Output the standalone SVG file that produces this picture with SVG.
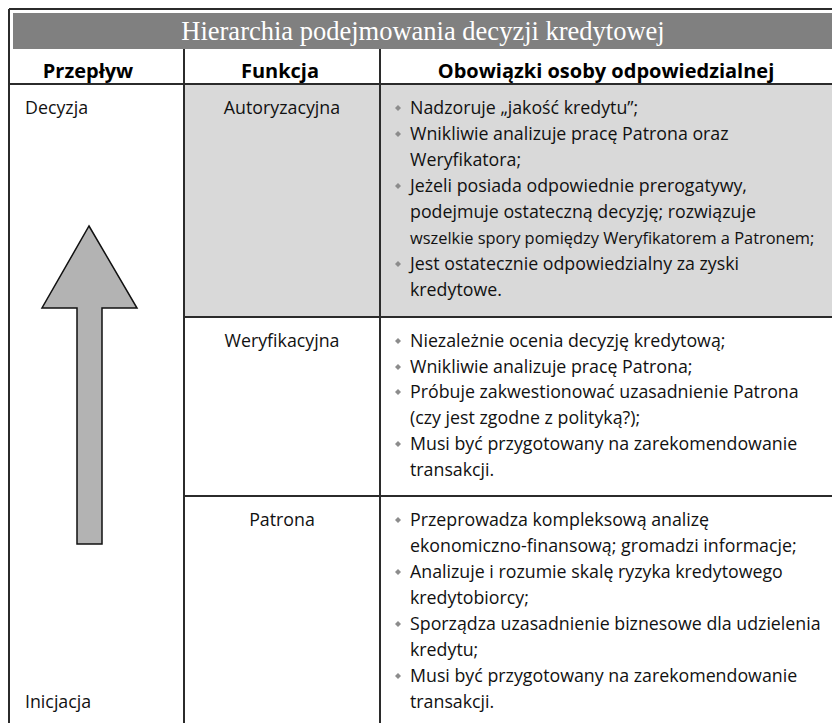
<svg xmlns="http://www.w3.org/2000/svg" width="832" height="723" viewBox="0 0 832 723">
<style>
.title{font-family:"Liberation Serif","DejaVu Serif",serif;font-size:26.5px;fill:#ffffff}
.hdr{font-family:"Open Sans","Noto Sans",sans-serif;font-size:20px;font-weight:bold;fill:#000}
.t{font-family:"Open Sans","Noto Sans",sans-serif;font-size:17.8px;fill:#111}
.ln{stroke:#2b2b2b;stroke-width:2;fill:none}
.bul{fill:#8c8c8c}
</style>
<defs>
<path id="b" d="M0,-3 L3,0 L0,3 L-3,0 Z"/>
</defs>
<rect x="0" y="0" width="832" height="723" fill="#fff"/>
<g id="title">
<rect x="13" y="13" width="819" height="36" fill="#808080"/>
<text class="title" x="423" y="40" text-anchor="middle">Hierarchia podejmowania decyzji kredytowej</text>
</g>
<g id="header">
<text class="hdr" x="88" y="78" text-anchor="middle">Przepływ</text>
<text class="hdr" x="280" y="78" text-anchor="middle">Funkcja</text>
<text class="hdr" x="606" y="78" text-anchor="middle">Obowiązki osoby odpowiedzialnej</text>
</g>
<g id="row1">
<rect x="185" y="85" width="647" height="232" fill="#d9d9d9"/>
<text class="t" x="282" y="114" text-anchor="middle">Autoryzacyjna</text>
<g class="bul"><use href="#b" x="398" y="108"/><use href="#b" x="398" y="134"/><use href="#b" x="398" y="186"/><use href="#b" x="398" y="264"/></g>
<text class="t" x="410" y="114">Nadzoruje „jakość kredytu”;</text>
<text class="t" x="410" y="140">Wnikliwie analizuje pracę Patrona oraz</text>
<text class="t" x="410" y="166">Weryfikatora;</text>
<text class="t" x="410" y="192">Jeżeli posiada odpowiednie prerogatywy,</text>
<text class="t" x="410" y="218">podejmuje ostateczną decyzję; rozwiązuje</text>
<text class="t" x="410" y="244" style="font-size:16.4px">wszelkie spory pomiędzy Weryfikatorem a Patronem;</text>
<text class="t" x="410" y="270">Jest ostatecznie odpowiedzialny za zyski</text>
<text class="t" x="410" y="296">kredytowe.</text>
</g>
<g id="row2">
<text class="t" x="282" y="347" text-anchor="middle">Weryfikacyjna</text>
<g class="bul"><use href="#b" x="398" y="341"/><use href="#b" x="398" y="367"/><use href="#b" x="398" y="392"/><use href="#b" x="398" y="444"/></g>
<text class="t" x="410" y="347">Niezależnie ocenia decyzję kredytową;</text>
<text class="t" x="410" y="373">Wnikliwie analizuje pracę Patrona;</text>
<text class="t" x="410" y="398">Próbuje zakwestionować uzasadnienie Patrona</text>
<text class="t" x="410" y="424">(czy jest zgodne z polityką?);</text>
<text class="t" x="410" y="450">Musi być przygotowany na zarekomendowanie</text>
<text class="t" x="410" y="476">transakcji.</text>
</g>
<g id="row3">
<text class="t" x="282" y="526" text-anchor="middle">Patrona</text>
<g class="bul"><use href="#b" x="398" y="520"/><use href="#b" x="398" y="572"/><use href="#b" x="398" y="624"/><use href="#b" x="398" y="676"/></g>
<text class="t" x="410" y="526">Przeprowadza kompleksową analizę</text>
<text class="t" x="410" y="552">ekonomiczno-finansową; gromadzi informacje;</text>
<text class="t" x="410" y="578">Analizuje i rozumie skalę ryzyka kredytowego</text>
<text class="t" x="410" y="604">kredytobiorcy;</text>
<text class="t" x="410" y="630">Sporządza uzasadnienie biznesowe dla udzielenia</text>
<text class="t" x="410" y="656">kredytu;</text>
<text class="t" x="410" y="682">Musi być przygotowany na zarekomendowanie</text>
<text class="t" x="410" y="708">transakcji.</text>
</g>
<g id="flow">
<text class="t" x="25" y="114">Decyzja</text>
<text class="t" x="25" y="708">Inicjacja</text>
<polygon points="89,226 137,308 102,308 102,544 77,544 77,308 42,308" fill="#b3b3b3" stroke="#111" stroke-width="1.5" stroke-linejoin="miter"/>
</g>
<g id="grid">
<path class="ln" d="M9,9 H832" stroke-width="1.5"/>
<path class="ln" d="M9,9 V723" stroke-width="1.5"/>
<path class="ln" d="M9,84 H832"/>
<path class="ln" d="M184,49 V723"/>
<path class="ln" d="M380,49 V723"/>
<path class="ln" d="M184,317 H832"/>
<path class="ln" d="M184,496 H832"/>
</g>
</svg>
